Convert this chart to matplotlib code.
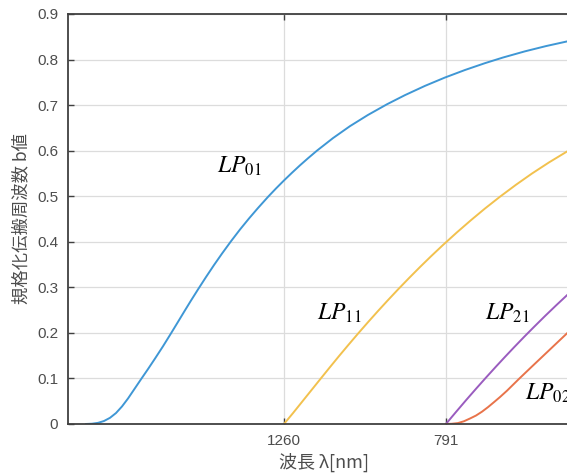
import matplotlib
matplotlib.use('Agg')
import matplotlib.pyplot as plt

plt.rcParams['font.family'] = ['Liberation Sans', 'Noto Sans CJK JP']
plt.rcParams['mathtext.fontset'] = 'stix'

# normalized frequency V vs normalized propagation constant b
v_lp01 = [0.661, 0.714, 0.767, 0.819, 0.872, 0.925, 0.978, 1.031, 1.084, 1.145, 1.207,
          1.269, 1.339, 1.410, 1.471, 1.533, 1.586, 1.648, 1.718, 1.789, 1.859, 1.938,
          2.018, 2.097, 2.176, 2.264, 2.335, 2.405, 2.476, 2.546, 2.617, 2.696, 2.837,
          2.987, 3.145, 3.313, 3.471, 3.648, 3.824, 4.000, 4.176, 4.335, 4.529, 4.714, 4.899]
b_lp01 = [0.0, 0.0006, 0.0025, 0.0065, 0.0135, 0.024, 0.0385, 0.056, 0.0755, 0.098, 0.1205,
          0.1437, 0.1705, 0.199, 0.224, 0.2495, 0.271, 0.2955, 0.3225, 0.349, 0.374, 0.401,
          0.427, 0.4511, 0.474, 0.4984, 0.517, 0.5345, 0.5515, 0.5677, 0.5833, 0.600, 0.6275,
          0.6538, 0.6783, 0.7018, 0.7218, 0.7422, 0.7605, 0.777, 0.792, 0.8044, 0.818, 0.8295, 0.8397]

v_lp11 = [2.405, 2.485, 2.564, 2.643, 2.722, 2.802, 2.890, 2.969, 3.057, 3.145, 3.233,
          3.322, 3.410, 3.507, 3.604, 3.700, 3.806, 3.930, 4.053, 4.176, 4.308, 4.449,
          4.590, 4.740, 4.899]
b_lp11 = [0.0, 0.024, 0.0485, 0.073, 0.0975, 0.1222, 0.149, 0.1725, 0.1982, 0.2233, 0.2478,
          0.272, 0.2953, 0.3203, 0.3446, 0.3679, 0.3928, 0.4208, 0.4474, 0.4729, 0.4988, 0.525,
          0.5497, 0.5741, 0.5981]

v_lp21 = [3.832, 3.921, 4.009, 4.097, 4.185, 4.273, 4.352, 4.432, 4.520, 4.608, 4.705,
          4.802, 4.899]
b_lp21 = [0.0, 0.0264, 0.0521, 0.0772, 0.1018, 0.1259, 0.1471, 0.1682, 0.1909, 0.2130, 0.2369,
          0.2601, 0.2827]

v_lp02 = [3.832, 3.885, 3.938, 3.991, 4.044, 4.097, 4.150, 4.203, 4.256, 4.308, 4.370,
          4.423, 4.476, 4.581, 4.687, 4.793, 4.899]
b_lp02 = [0.0, 0.0005, 0.002, 0.006, 0.012, 0.0185, 0.027, 0.037, 0.048, 0.059, 0.073,
          0.086, 0.099, 0.124, 0.149, 0.174, 0.199]

tick_pos = [2.405, 3.832]
tick_labels = ['1260', '791']

fig = plt.figure(figsize=(5.67, 4.75), dpi=100)
ax = fig.add_axes([0.1199, 0.1074, 0.8801, 0.8632])

ax.plot(v_lp01, b_lp01, color='#3f97d5', lw=1.4)
ax.plot(v_lp11, b_lp11, color='#f2c14e', lw=1.4)
ax.plot(v_lp21, b_lp21, color='#9a5cbf', lw=1.4)
ax.plot(v_lp02, b_lp02, color='#e8734a', lw=1.4)

ax.set_xlim(0.502, 4.899)
ax.set_ylim(0, 0.9)
ax.set_xticks(tick_pos)
ax.set_xticklabels(tick_labels)
ax.set_yticks([i / 10 for i in range(10)])
ax.set_yticklabels(['0'] + ['%.1f' % (i / 10) for i in range(1, 10)])

ax.grid(True, color='#dcdcdc', lw=0.9)
ax.set_axisbelow(True)
ax.tick_params(direction='in', length=4, width=1, colors='#404040',
               labelcolor='#4d4d4d', labelsize=11, top=True)
ax.tick_params(axis='y', pad=7)
ax.tick_params(axis='x', pad=7)
for s in ['left', 'top', 'bottom']:
    ax.spines[s].set_color('#404040')
    ax.spines[s].set_linewidth(1.3)
ax.spines['right'].set_visible(False)

ax.set_xlabel('波長 λ[nm]', fontsize=13, color='#4d4d4d',
              family=['Noto Sans CJK JP', 'DejaVu Sans'])
ax.xaxis.set_label_coords(0.513, -0.07)
ax.set_ylabel('規格化伝搬周波数 b値', fontsize=12.5, color='#4d4d4d',
              family=['Noto Sans CJK JP', 'DejaVu Sans'])
ax.yaxis.set_label_coords(-0.075, 0.5)

ax.text(1.815, 0.551, r'$LP_{01}$', fontsize=17, color='black')
ax.text(2.696, 0.228, r'$LP_{11}$', fontsize=17, color='black')
ax.text(4.176, 0.228, r'$LP_{21}$', fontsize=17, color='black')
ax.text(4.529, 0.053, r'$LP_{02}$', fontsize=17, color='black', clip_on=True)

fig.savefig('out.png', dpi=100)
